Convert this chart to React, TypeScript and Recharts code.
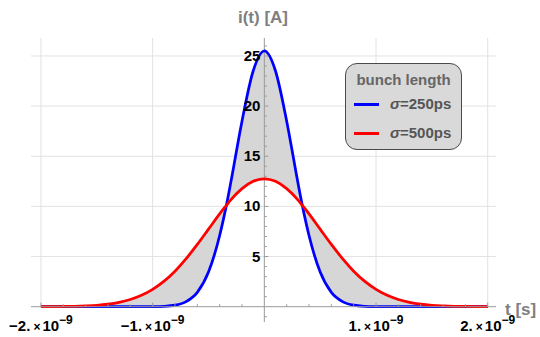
import {
    Area,
    CartesianGrid,
    ComposedChart,
    Line,
    ReferenceDot,
    ReferenceLine,
    XAxis,
    YAxis,
} from 'recharts';

// time in units of 1e-9 s
const timeNs = [
    -2, -1.9, -1.8, -1.7, -1.6, -1.5, -1.4, -1.3, -1.2, -1.1, -1, -0.9, -0.8, -0.7, -0.6, -0.5, -0.4,
    -0.34, -0.3, -0.2, -0.1, 0, 0.1, 0.2, 0.3, 0.34, 0.4, 0.5, 0.6, 0.7, 0.8, 0.9, 1, 1.1, 1.2, 1.3, 1.4,
    1.5, 1.6, 1.7, 1.8, 1.9, 2,
];

// current [A], sigma = 250 ps
const sigma250 = [
    0, 0, 0, 0, 0, 0, 0, 0, 0, 0, 0.01, 0.04, 0.15, 0.51, 1.43, 3.45, 7.1, 10.1, 12.4, 18.5, 23.5, 25.5,
    23.5, 18.5, 12.4, 10.1, 7.1, 3.45, 1.43, 0.51, 0.15, 0.04, 0.01, 0, 0, 0, 0, 0, 0, 0, 0, 0, 0,
];

// current [A], sigma = 500 ps
const sigma500 = [
    0, 0.01, 0.02, 0.04, 0.08, 0.14, 0.25, 0.43, 0.72, 1.13, 1.73, 2.52, 3.54, 4.79, 6.21, 7.73, 9.26,
    10.1, 10.65, 11.77, 12.5, 12.75, 12.5, 11.77, 10.65, 10.1, 9.26, 7.73, 6.21, 4.79, 3.54, 2.52, 1.73,
    1.13, 0.72, 0.43, 0.25, 0.14, 0.08, 0.04, 0.02, 0.01, 0,
];

const xTickValues = [-2, -1, 1, 2];
const xTickMantissas = ['\u22122.', '\u22121.', '1.', '2.'];
const xTickExponent = '\u22129';
const xMajorMarks = [-2, -1, 1, 2];
const xMinorMarks = [
    -1.8, -1.6, -1.4, -1.2, -0.8, -0.6, -0.4, -0.2, 0.2, 0.4, 0.6, 0.8, 1.2, 1.4, 1.6, 1.8,
];

const yTickValues = [5, 10, 15, 20, 25];
const yTickLabels = ['5', '10', '15', '20', '25'];
const yMinorMarks = [
    -1, 1, 2, 3, 4, 6, 7, 8, 9, 11, 12, 13, 14, 16, 17, 18, 19, 21, 22, 23, 24, 26,
];

const legendTitle = 'bunch length';
const seriesSymbols = ['\u03c3', '\u03c3'];
const seriesSuffixes = ['=250ps', '=500ps'];
const seriesColors = ['#0000ff', '#ff0000'];

const FONT = '"Liberation Sans", Arial, Helvetica, sans-serif';
const AXIS_COLOR = '#9a9a9a';
const GRID_COLOR = '#e2e2e2';

const rows = timeNs.map((t, i) => ({
    t,
    narrow: sigma250[i],
    wide: sigma500[i],
    band: [Math.min(sigma250[i], sigma500[i]), Math.max(sigma250[i], sigma500[i])],
}));

const XTick = ({ x, y, payload }: { x: number; y: number; payload: { value: number } }) => {
    const idx = xTickValues.indexOf(payload.value);
    if (idx < 0) {
        return null;
    }
    return (
        <text
            x={x}
            y={y + 24}
            textAnchor='middle'
            fontFamily={FONT}
            fontWeight='bold'
            fontSize={15}
            fill='#000'
        >
            <tspan>{xTickMantissas[idx]}</tspan>
            <tspan dx={3} fontSize={12}>
                ×
            </tspan>
            <tspan dx={2}>10</tspan>
            <tspan fontSize={12} dy={-7}>
                {xTickExponent}
            </tspan>
        </text>
    );
};

const tickMark = (dx: number, dy: number) => (props: { cx?: number; cy?: number }) => {
    const cx = props.cx ?? 0;
    const cy = props.cy ?? 0;
    return <line x1={cx} y1={cy} x2={cx + dx} y2={cy + dy} stroke={AXIS_COLOR} strokeWidth={1} />;
};

const yLabel = (label: string) => (props: { cx?: number; cy?: number }) => (
    <text
        x={(props.cx ?? 0) - 4}
        y={(props.cy ?? 0) + 5}
        textAnchor='end'
        fontFamily={FONT}
        fontWeight='bold'
        fontSize={15}
        fill='#000'
    >
        {label}
    </text>
);

const BunchLegend = () => (
    <div
        style={{
            position: 'absolute',
            left: 345,
            top: 63,
            width: 117,
            height: 87,
            boxSizing: 'border-box',
            border: '1.5px solid #4a4a4a',
            borderRadius: 12,
            background: '#d9d9d9',
            fontFamily: FONT,
            fontWeight: 'bold',
        }}
    >
        <div
            style={{
                position: 'absolute',
                left: 0,
                top: 8,
                width: '100%',
                textAlign: 'center',
                fontSize: 15,
                lineHeight: '15px',
                color: '#666',
            }}
        >
            {legendTitle}
        </div>
        {seriesSuffixes.map((suffix, i) => (
            <div key={suffix}>
                <div
                    style={{
                        position: 'absolute',
                        left: 8,
                        top: 39 + i * 29,
                        width: 25,
                        height: 3,
                        background: seriesColors[i],
                    }}
                />
                <div
                    style={{
                        position: 'absolute',
                        left: 44,
                        top: 32 + i * 29,
                        fontSize: 15,
                        lineHeight: '15px',
                        color: '#555',
                        whiteSpace: 'nowrap',
                    }}
                >
                    <i>{seriesSymbols[i]}</i>
                    {suffix}
                </div>
            </div>
        ))}
    </div>
);

export default function App() {
    return (
        <div
            style={{
                position: 'absolute',
                left: 0,
                top: 0,
                width: 540,
                height: 337,
                background: '#fff',
                fontFamily: FONT,
            }}
        >
            <ComposedChart
                width={540}
                height={337}
                data={rows}
                margin={{ top: 38, right: 44, bottom: 0, left: 31 }}
            >
                <CartesianGrid
                    stroke={GRID_COLOR}
                    horizontalValues={yTickValues}
                    verticalValues={xTickValues}
                />
                <XAxis
                    dataKey='t'
                    type='number'
                    domain={[-2.089, 2.074]}
                    ticks={xTickValues}
                    interval={0}
                    height={30.3}
                    axisLine={{ stroke: AXIS_COLOR }}
                    tickLine={false}
                    tickSize={0}
                    tickMargin={0}
                    tick={XTick}
                />
                <YAxis hide type='number' domain={[0, 26.79]} ticks={yTickValues} />
                <Area
                    dataKey='band'
                    type='monotone'
                    fill='#d6d6d6'
                    fillOpacity={1}
                    stroke='none'
                    isAnimationActive={false}
                    activeDot={false}
                />
                <ReferenceLine
                    segment={[
                        { x: 0, y: -1.53 },
                        { x: 0, y: 26.79 },
                    ]}
                    stroke={AXIS_COLOR}
                    ifOverflow='visible'
                />
                {xMajorMarks.map((v) => (
                    <ReferenceDot key={`xM${v}`} x={v} y={0} r={0} shape={tickMark(0, -4)} />
                ))}
                {xMinorMarks.map((v) => (
                    <ReferenceDot key={`xm${v}`} x={v} y={0} r={0} shape={tickMark(0, -2.5)} />
                ))}
                {yTickValues.map((v) => (
                    <ReferenceDot key={`yM${v}`} x={0} y={v} r={0} shape={tickMark(4, 0)} />
                ))}
                {yMinorMarks.map((v) => (
                    <ReferenceDot
                        key={`ym${v}`}
                        x={0}
                        y={v}
                        r={0}
                        ifOverflow='visible'
                        shape={tickMark(2.5, 0)}
                    />
                ))}
                <Line
                    dataKey='narrow'
                    type='monotone'
                    stroke={seriesColors[0]}
                    strokeWidth={2.75}
                    dot={false}
                    activeDot={false}
                    isAnimationActive={false}
                />
                <Line
                    dataKey='wide'
                    type='monotone'
                    stroke={seriesColors[1]}
                    strokeWidth={2.75}
                    dot={false}
                    activeDot={false}
                    isAnimationActive={false}
                />
                {yTickValues.map((v, i) => (
                    <ReferenceDot key={`yl${v}`} x={0} y={v} r={0} shape={yLabel(yTickLabels[i])} />
                ))}
            </ComposedChart>
            <div
                style={{
                    position: 'absolute',
                    left: 213,
                    top: 9,
                    width: 100,
                    textAlign: 'center',
                    fontSize: 17,
                    lineHeight: '17px',
                    fontWeight: 'bold',
                    color: '#808080',
                }}
            >
                i(t) [A]
            </div>
            <div
                style={{
                    position: 'absolute',
                    left: 505,
                    top: 301,
                    fontSize: 17,
                    lineHeight: '17px',
                    fontWeight: 'bold',
                    color: '#808080',
                    whiteSpace: 'nowrap',
                }}
            >
                t [s]
            </div>
            <BunchLegend />
        </div>
    );
}
